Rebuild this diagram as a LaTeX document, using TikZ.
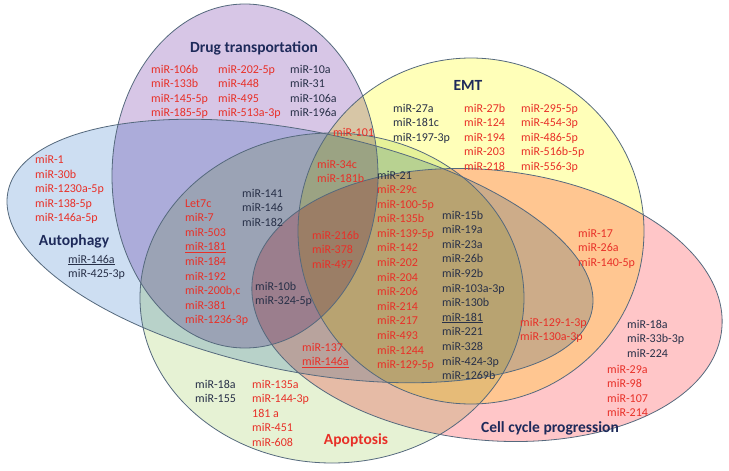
\documentclass[tikz,border=0pt]{standalone}
\usepackage{fontspec}
\setmainfont{Carlito}
\definecolor{cpur}{RGB}{215,198,230}
\definecolor{cblu}{RGB}{205,222,242}
\definecolor{cyel}{RGB}{255,255,185}
\definecolor{cgrn}{RGB}{230,242,212}
\definecolor{cpnk}{RGB}{255,198,200}
\definecolor{edgec}{RGB}{85,105,125}
\definecolor{txred}{RGB}{232,48,40}
\definecolor{txdark}{RGB}{40,48,72}
\definecolor{txnavy}{RGB}{30,42,90}
\newcommand\mirlist[5]{\foreach \t [count=\i] in {#5} {\node[#4] (#1\i) at (#2,{#3+4+14.6*(\i-1)}) {\t};}}
\begin{document}
\begin{tikzpicture}[x=1pt,y=-1pt,
 setfill/.style={blend mode=multiply},
 setedge/.style={draw=edgec,line width=0.8pt},
 mred/.style={anchor=base west,inner sep=0pt,text=txred,font=\fontsize{12}{14}\selectfont},
 mdark/.style={mred,text=txdark},
 ttl/.style={anchor=base,inner sep=0pt,text=txnavy,font=\fontsize{15.5}{18}\selectfont\bfseries}]
\fill[white] (0,0) rectangle (729,471);
\useasboundingbox (0,0) rectangle (729,471);
% set fills
\path[setfill,fill=cpur] (245,176) ellipse [x radius=133,y radius=172];
\path[setfill,fill=cblu,rotate around={-11.5:(300,251)}] (300,251) ellipse [x radius=298,y radius=120];
\path[setfill,fill=cyel] (471,231) ellipse [x radius=173,y radius=173];
\path[setfill,fill=cgrn] (332,298) ellipse [x radius=192,y radius=165];
\path[setfill,fill=cpnk,rotate around={-6:(487,305)}] (487,305) ellipse [x radius=236,y radius=135];
% set outlines
\draw[setedge] (245,176) ellipse [x radius=133,y radius=172];
\draw[setedge,rotate around={-11.5:(300,251)}] (300,251) ellipse [x radius=298,y radius=120];
\draw[setedge] (471,231) ellipse [x radius=173,y radius=173];
\draw[setedge] (332,298) ellipse [x radius=192,y radius=165];
\draw[setedge,rotate around={-6:(487,305)}] (487,305) ellipse [x radius=236,y radius=135];
% titles
\node[ttl] (tDrug) at (254,52.5) {Drug transportation};
\node[ttl] (tAuto) at (74,245.5) {Autophagy};
\node[ttl] (tEMT) at (468,90.5) {EMT};
\node[ttl,text=txred] (tApo) at (356,444.5) {Apoptosis};
\node[ttl] (tCell) at (550,432.5) {Cell cycle progression};
% drug transportation
\mirlist{dA}{151}{69}{mred}{miR-106b,miR-133b,miR-145-5p,miR-185-5p}
\mirlist{dB}{218}{69}{mred}{miR-202-5p,miR-448,miR-495,miR-513a-3p}
\mirlist{dC}{290}{69}{mdark}{miR-10a,miR-31,miR-106a,miR-196a}
% autophagy
\mirlist{aA}{35}{159.5}{mred}{miR-1,miR-30b,miR-1230a-5p,miR-138-5p,miR-146a-5p}
\mirlist{aB}{68}{259}{mdark}{\underline{miR-146a},miR-425-3p}
% EMT
\mirlist{eA}{393}{108}{mdark}{miR-27a,miR-181c,miR-197-3p}
\mirlist{eB}{464}{108}{mred}{miR-27b,miR-124,miR-194,miR-203,miR-218}
\mirlist{eC}{521}{108}{mred}{miR-295-5p,miR-454-3p,miR-486-5p,miR-516b-5p,miR-556-3p}
% overlaps
\node[mred] (m101) at (333,136) {miR-101};
\mirlist{mA}{317}{164}{mred}{miR-34c,miR-181b}
\node[mdark] (m21) at (377,179) {miR-21};
\mirlist{cR}{377}{189.5}{mred}{miR-29c,miR-100-5p,miR-135b,miR-139-5p,miR-142,miR-202,miR-204,miR-206,miR-214,miR-217,miR-493,miR-1244,miR-129-5p}
\mirlist{cD}{442}{215}{mdark}{miR-15b,miR-19a,miR-23a,miR-26b,miR-92b,miR-103a-3p,miR-130b,\underline{miR-181},miR-221,miR-328,miR-424-3p,miR-1269b}
\mirlist{mB}{312}{235}{mred}{miR-216b,miR-378,miR-497}
\mirlist{lA}{185}{203}{mred}{Let7c,miR-7,miR-503,\underline{miR-181},miR-184,miR-192,{miR-200b,c},miR-381,miR-1236-3p}
\mirlist{lB}{242}{193}{mdark}{miR-141,miR-146,miR-182}
\mirlist{lC}{255}{286}{mdark}{miR-10b,miR-324-5p}
\mirlist{lD}{302}{347}{mred}{miR-137,\underline{miR-146a}}
% apoptosis
\mirlist{pA}{195}{384}{mdark}{miR-18a,miR-155}
\mirlist{pB}{252}{384}{mred}{miR-135a,miR-144-3p,181 a,miR-451,miR-608}
% cell cycle
\mirlist{kA}{578}{233}{mred}{miR-17,miR-26a,miR-140-5p}
\mirlist{kB}{520}{322}{mred}{miR-129-1-3p,miR-130a-3p}
\mirlist{kC}{627}{324}{mdark}{miR-18a,miR-33b-3p,miR-224}
\mirlist{kD}{607}{369}{mred}{miR-29a,miR-98,miR-107,miR-214}
\end{tikzpicture}
\end{document}
